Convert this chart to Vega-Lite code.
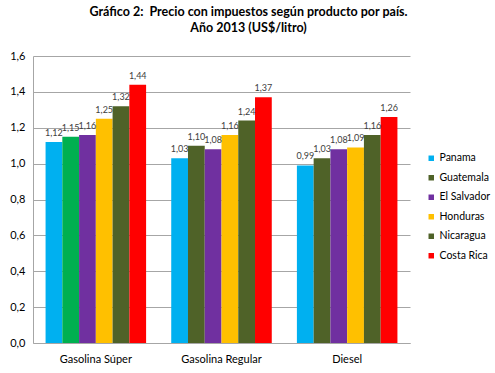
{
  "$schema": "https://vega.github.io/schema/vega-lite/v6.json",
  "width": 377,
  "height": 287,
  "autosize": {"type": "none"},
  "padding": {"left": 33, "top": 56, "right": 85, "bottom": 30},
  "background": "white",
  "title": {
    "text": ["Gráfico 2: \u00a0Precio con impuestos según producto por país.", "Año 2013 (US$/litro)"],
    "font": "Lato",
    "fontSize": 12.5,
    "fontWeight": "bold",
    "color": "#000000",
    "anchor": "middle",
    "dx": 27,
    "offset": 16,
    "lineHeight": 16
  },
  "data": {
    "values": [
      {"producto": "Gasolina Súper", "pais": "Panama", "precio": 1.12},
      {"producto": "Gasolina Súper", "pais": "Guatemala", "precio": 1.15},
      {"producto": "Gasolina Súper", "pais": "El Salvador", "precio": 1.16},
      {"producto": "Gasolina Súper", "pais": "Honduras", "precio": 1.25},
      {"producto": "Gasolina Súper", "pais": "Nicaragua", "precio": 1.32},
      {"producto": "Gasolina Súper", "pais": "Costa Rica", "precio": 1.44},
      {"producto": "Gasolina Regular", "pais": "Panama", "precio": 1.03},
      {"producto": "Gasolina Regular", "pais": "Guatemala", "precio": 1.10},
      {"producto": "Gasolina Regular", "pais": "El Salvador", "precio": 1.08},
      {"producto": "Gasolina Regular", "pais": "Honduras", "precio": 1.16},
      {"producto": "Gasolina Regular", "pais": "Nicaragua", "precio": 1.24},
      {"producto": "Gasolina Regular", "pais": "Costa Rica", "precio": 1.37},
      {"producto": "Diesel", "pais": "Panama", "precio": 0.99},
      {"producto": "Diesel", "pais": "Guatemala", "precio": 1.03},
      {"producto": "Diesel", "pais": "El Salvador", "precio": 1.08},
      {"producto": "Diesel", "pais": "Honduras", "precio": 1.09},
      {"producto": "Diesel", "pais": "Nicaragua", "precio": 1.16},
      {"producto": "Diesel", "pais": "Costa Rica", "precio": 1.26}
    ]
  },
  "encoding": {
    "x": {
      "field": "producto",
      "type": "nominal",
      "sort": ["Gasolina Súper", "Gasolina Regular", "Diesel"],
      "scale": {"paddingInner": 0.2, "paddingOuter": 0.1},
      "axis": {
        "title": null,
        "labelAngle": 0,
        "ticks": false,
        "domainColor": "#a6a6a6",
        "labelFont": "Lato",
        "labelFontSize": 11,
        "labelColor": "#000000",
        "labelPadding": 10
      }
    },
    "xOffset": {
      "field": "pais",
      "type": "nominal",
      "sort": ["Panama", "Guatemala", "El Salvador", "Honduras", "Nicaragua", "Costa Rica"]
    },
    "y": {
      "field": "precio",
      "type": "quantitative",
      "scale": {"domain": [0, 1.6]},
      "axis": {
        "title": null,
        "values": [0, 0.2, 0.4, 0.6, 0.8, 1.0, 1.2, 1.4, 1.6],
        "format": ".1f",
        "ticks": false,
        "domain": true,
        "domainColor": "#a6a6a6",
        "gridColor": "#a6a6a6",
        "labelFont": "Lato",
        "labelFontSize": 11,
        "labelColor": "#000000",
        "labelPadding": 8
      }
    }
  },
  "layer": [
    {
      "mark": {"type": "bar"},
      "encoding": {
        "color": {
          "condition": {
            "test": "datum.producto === 'Gasolina Súper' && datum.pais === 'Guatemala'",
            "value": "#00b050"
          },
          "field": "pais",
          "type": "nominal",
          "sort": ["Panama", "Guatemala", "El Salvador", "Honduras", "Nicaragua", "Costa Rica"],
          "scale": {
            "domain": ["Panama", "Guatemala", "El Salvador", "Honduras", "Nicaragua", "Costa Rica"],
            "range": ["#00b0f0", "#4f6228", "#7030a0", "#ffc000", "#4f6228", "#ff0000"]
          },
          "legend": {
            "title": null,
            "orient": "none",
            "legendX": 393,
            "legendY": 97,
            "symbolType": "square",
            "symbolSize": 30,
            "symbolStrokeWidth": 0,
            "labelFont": "Lato",
            "labelFontSize": 10.5,
            "labelColor": "#000000",
            "labelOffset": 3,
            "labelLimit": 200,
            "rowPadding": 8.5
          }
        }
      }
    },
    {
      "mark": {"type": "text", "dy": -9, "font": "Lato", "fontSize": 9, "color": "#404040"},
      "encoding": {
        "text": {"field": "precio", "type": "quantitative", "format": ".2f"}
      }
    }
  ],
  "config": {
    "locale": {
      "number": {"decimal": ",", "thousands": ".", "grouping": [3], "currency": ["", ""]}
    },
    "view": {"stroke": null}
  }
}
